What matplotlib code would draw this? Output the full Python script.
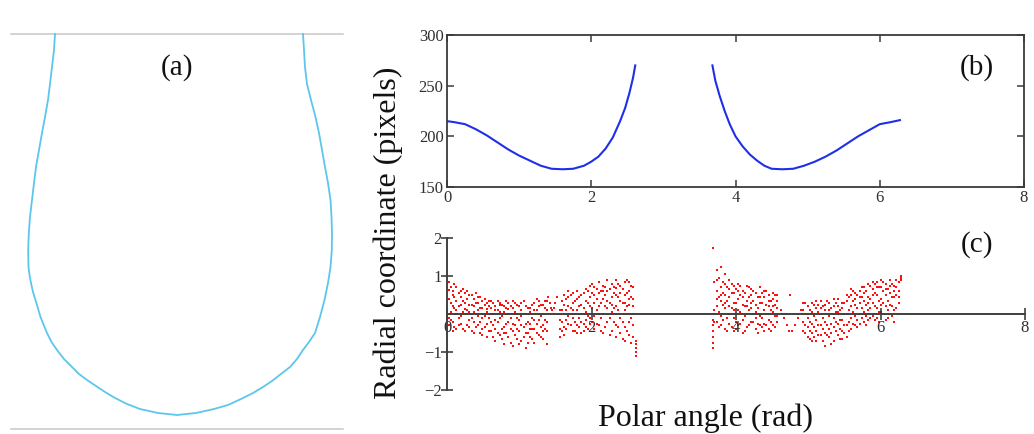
import matplotlib
matplotlib.use("Agg")
import matplotlib.pyplot as plt

plt.rcParams['font.family'] = ['Liberation Serif', 'DejaVu Serif']

W, H = 1034, 434

# ---------------- data ----------------
# (a) drop contour traced in image pixel coordinates (x, y down)
drop_x = [55, 54, 52, 50, 48, 45, 42, 39, 36, 34, 32, 30, 28.8, 28.2, 28.5, 29.5, 31, 33, 35.5, 40.5, 47, 51.5, 57, 64, 72, 79, 87, 96, 105,
          115, 127, 140, 158, 177, 196, 214, 228, 241, 253, 263, 272, 281, 290, 297, 303, 309, 315, 320, 324.5, 328, 330.5, 331.8,
          332, 331.5, 330.5, 328, 325, 322, 319, 315.5, 311, 307, 305, 304, 303]
drop_y = [34, 50, 67, 84, 100, 117, 133, 150, 167, 183, 200, 217, 233, 250, 267, 275, 283, 292, 300, 317, 333, 342, 350, 359, 367,
          374, 380, 386, 392, 398, 404, 409, 413, 415, 413, 409, 405, 399, 393, 387, 381, 374, 367, 359, 350, 342, 333, 317,
          300, 283, 267, 250, 233, 217, 200, 183, 167, 150, 133, 117, 100, 84, 67, 50, 34]

# (b) radial coordinate vs polar angle, two branches
b_left_x = [0.0, 0.1, 0.25, 0.4, 0.55, 0.7, 0.85, 1.0, 1.15, 1.3, 1.45, 1.6, 1.75, 1.9, 2.0, 2.1, 2.2, 2.3, 2.4, 2.47, 2.53, 2.58, 2.61]
b_left_y = [215, 214, 212, 207, 201, 194, 187, 181, 176, 171, 168, 167.5, 168, 171, 175, 180, 188, 199, 215, 228, 243, 258, 270]
b_right_x = [3.68, 3.72, 3.78, 3.85, 3.92, 4.0, 4.1, 4.2, 4.3, 4.4, 4.5, 4.65, 4.8, 4.95, 5.1, 5.25, 5.4, 5.55, 5.7, 5.85, 6.0, 6.15, 6.28]
b_right_y = [270, 255, 240, 225, 212, 200, 190, 182, 176, 171, 168, 167.5, 168, 171, 175, 180, 186, 193, 200, 206, 212, 214, 216]

# (c) residuals: columns of points (angle, list of residuals)
c_cols_x = [0.0, 0.03, 0.08, 0.13, 0.19, 0.25, 0.31, 0.37, 0.43, 0.49, 0.55, 0.61, 0.67, 0.73, 0.79, 0.85, 0.91, 0.97,
            1.03, 1.09, 1.15, 1.21, 1.27, 1.33, 1.38, 1.40, 1.42, 1.44, 1.46, 1.48, 1.50, 1.52, 1.56, 1.62, 1.68, 1.74,
            1.80, 1.86, 1.92, 1.98, 2.04, 2.10, 2.16, 2.22, 2.28, 2.34, 2.40, 2.46, 2.52, 2.58, 2.61,
            3.68, 3.70, 3.74, 3.79, 3.85, 3.91, 3.97, 4.03, 4.09, 4.15, 4.21, 4.27, 4.33, 4.39, 4.45, 4.51, 4.57,
            4.62, 4.66, 4.70, 4.74, 4.75, 4.78, 4.82, 4.86, 4.90, 4.93, 4.99, 5.05, 5.11, 5.17, 5.23, 5.29, 5.35, 5.41,
            5.47, 5.53, 5.59, 5.65, 5.71, 5.77, 5.83, 5.89, 5.95, 6.01, 6.07, 6.13, 6.19, 6.25, 6.28]
c_cols_y = [
    [0.0, -0.1, -0.2],
    [0.85, 0.4, -0.1, -0.3, 0.62],
    [0.6, 0.2, -0.2, 0.5, -0.45],
    [0.7, 0.1, -0.4, 0.35, 0.0],
    [0.45, -0.05, -0.25, 0.6, 0.25],
    [0.55, 0.3, -0.45, 0.0, 0.12],
    [0.25, -0.15, 0.5, -0.35, 0.05],
    [0.4, 0.05, -0.5, 0.2, -0.2],
    [0.3, -0.3, 0.1, 0.45, -0.05],
    [0.15, -0.55, 0.35, -0.1, -0.4],
    [0.05, 0.12, -0.6, 0.3, -0.25],
    [0.35, -0.2, -0.45, 0.0, 0.15],
    [0.2, -0.4, -0.7, 0.1, -0.15],
    [0.3, -0.1, -0.55, 0.25, 0.05],
    [0.05, -0.35, -0.8, 0.2, -0.5],
    [0.3, -0.2, -0.6, 0.0, 0.12],
    [0.15, -0.45, -0.85, 0.35, -0.25],
    [0.25, -0.1, -0.65, 0.0, -0.4],
    [0.1, -0.3, -0.7, 0.3, -0.05],
    [0.2, -0.5, -0.9, 0.0, -0.25],
    [0.05, -0.25, -0.6, 0.15, -0.4],
    [0.3, -0.4, -0.75, 0.1, -0.15],
    [0.2, -0.15, -0.55, 0.35, 0.0],
    [0.0, -0.3, -0.65, 0.25, -0.45],
    [0.35, -0.2, -0.45, -0.8, 0.1],
    [0.45], [0.3], [0.15], [0.1], [0.15], [0.3], [0.45],
    [0.1, -0.15, -0.4, -0.6],
    [0.5, 0.0, -0.35, 0.25, -0.55],
    [0.6, 0.2, -0.25, 0.45, -0.05],
    [0.3, -0.1, -0.45, 0.55, 0.1],
    [0.6, 0.1, -0.3, 0.4, -0.5],
    [0.25, -0.2, 0.5, -0.5, 0.0],
    [0.65, 0.05, -0.35, 0.35, -0.15],
    [0.45, -0.1, 0.75, -0.25, 0.2],
    [0.7, 0.3, -0.05, -0.4, 0.5],
    [0.55, 0.2, -0.3, 0.85, 0.0],
    [0.75, 0.4, 0.0, -0.5, 0.6],
    [0.6, 0.15, -0.2, 0.9, 0.35],
    [0.8, 0.45, 0.05, -0.45, 0.25],
    [0.5, 0.2, -0.3, 0.9, -0.6, 0.68],
    [0.75, 0.35, -0.1, -0.5, 0.55],
    [0.85, 0.5, 0.1, -0.35, -0.7, 0.3],
    [0.6, 0.25, -0.2, -0.55, 0.85, 0.4],
    [0.7, 0.4, 0.0, -0.3, -0.6, 0.2],
    [-0.7, -0.8, -0.9, -1.0, -1.1],
    [0.0, -0.15, -0.3, -0.45, -0.6, -0.75, -0.9, 1.75],
    [0.85, 0.1, -0.2],
    [1.15, 0.6, 0.2, -0.2, 0.4, 0.9],
    [1.25, 0.7, 0.35, -0.05, -0.3, 0.5],
    [1.05, 0.5, 0.15, -0.4, 0.8, 0.3],
    [0.9, 0.45, 0.0, -0.25, 0.65, 0.2],
    [0.75, 0.3, -0.1, -0.45, 0.55, 0.1],
    [0.8, 0.4, 0.1, -0.3, 0.6],
    [0.6, 0.25, -0.15, -0.5, 0.45],
    [0.75, 0.35, 0.0, -0.35, 0.2],
    [0.5, 0.15, -0.2, 0.65, 0.3],
    [0.55, 0.25, -0.1, -0.4, 0.05],
    [0.7, 0.3, -0.05, -0.3, 0.45],
    [0.45, 0.1, -0.25, 0.6, -0.45],
    [0.5, 0.2, -0.15, -0.4, 0.35],
    [0.4, 0.05, -0.3, 0.55, 0.2],
    [0.35, 0.15, -0.2, 0.5, -0.05],
    [0.1], [-0.1], [-0.3], [-0.45], [0.5], [-0.45], [-0.3], [-0.1], [0.1],
    [0.1, -0.2, -0.45, 0.3],
    [0.2, -0.1, -0.35, -0.6],
    [0.05, -0.25, -0.5, 0.3, -0.7],
    [0.15, -0.15, -0.45, -0.7, 0.35],
    [0.35, 0.0, -0.3, -0.55, 0.15],
    [0.1, -0.2, -0.5, -0.85, 0.25],
    [0.3, -0.05, -0.4, -0.6, 0.1],
    [0.2, -0.1, -0.35, -0.7, 0.4],
    [0.4, 0.05, -0.25, -0.55, 0.2],
    [0.15, -0.15, -0.45, 0.3, -0.65],
    [0.35, 0.0, -0.3, -0.6, 0.5],
    [0.5, 0.2, -0.1, -0.4, 0.65],
    [0.55, 0.25, -0.05, -0.3, 0.4],
    [0.6, 0.3, 0.0, -0.25, 0.45],
    [0.7, 0.35, 0.05, -0.2, 0.55],
    [0.8, 0.45, 0.1, -0.15, 0.3],
    [0.65, 0.3, -0.05, 0.85, 0.5],
    [0.85, 0.5, 0.15, -0.1, 0.7],
    [0.7, 0.4, 0.05, 0.9, 0.25],
    [0.8, 0.5, 0.2, -0.15, 0.65],
    [0.9, 0.55, 0.25, 0.0, 0.75],
    [0.75, 0.45, 0.1, -0.2, 0.6],
    [0.85, 0.6, 0.3, 0.0, 0.45],
    [0.9, 0.95, 1.0],
]

# second, interleaved layer of residual columns
c2_cols_x = [0.05, 0.10, 0.16, 0.22, 0.28, 0.34, 0.40, 0.46, 0.52, 0.58, 0.64, 0.70, 0.76, 0.82, 0.88, 0.94, 1.00,
             1.06, 1.12, 1.18, 1.24, 1.30, 1.36, 1.59, 1.65, 1.71, 1.77, 1.83, 1.89, 1.95, 2.01, 2.07, 2.13, 2.19,
             2.25, 2.31, 2.37, 2.43, 2.49, 2.55,
             3.76, 3.82, 3.88, 3.94, 4.00, 4.06, 4.12, 4.18, 4.24, 4.30, 4.36, 4.42, 4.48, 4.54,
             4.96, 5.02, 5.08, 5.14, 5.20, 5.26, 5.32, 5.38, 5.44, 5.50, 5.56, 5.62, 5.68, 5.74, 5.80, 5.86,
             5.92, 5.98, 6.04, 6.10, 6.16, 6.22]
c2_cols_y = [
    [0.7, 0.3, -0.15, 0.05], [0.45, 0.15, -0.35, 0.8], [0.55, 0.2, -0.1, -0.3], [0.65, 0.35, 0.05, -0.4],
    [0.4, 0.1, -0.3, 0.6], [0.5, 0.25, -0.1, -0.45], [0.3, 0.0, -0.35, 0.55], [0.45, 0.15, -0.2, -0.5],
    [0.25, -0.05, -0.35, 0.4], [0.2, -0.1, -0.45, 0.35], [0.3, 0.0, -0.3, -0.6], [0.1, -0.2, -0.5, 0.35],
    [0.25, -0.05, -0.4, -0.65], [0.15, -0.25, -0.5, 0.35], [0.2, -0.1, -0.4, -0.75], [0.05, -0.3, -0.55, 0.3],
    [0.2, -0.15, -0.45, -0.8], [0.35, 0.0, -0.35, -0.6], [0.15, -0.2, -0.5, -0.75], [0.25, -0.1, -0.4, -0.65],
    [0.1, -0.25, -0.5, 0.4], [0.25, -0.05, -0.35, -0.6], [0.15, -0.15, -0.4, 0.35],
    [0.35, -0.2, -0.45, 0.1], [0.4, 0.1, -0.15, -0.4], [0.5, 0.15, -0.3, 0.0], [0.35, 0.0, -0.2, -0.45],
    [0.45, 0.2, -0.1, -0.35], [0.55, 0.15, -0.25, -0.45], [0.3, 0.6, -0.05, -0.4], [0.55, 0.15, -0.2, 0.8],
    [0.65, 0.4, 0.1, -0.25], [0.6, 0.3, -0.1, -0.45], [0.7, 0.5, 0.2, -0.35], [0.65, 0.3, -0.1, -0.55],
    [0.7, 0.55, 0.15, -0.2], [0.8, 0.45, 0.1, -0.35], [0.65, 0.3, -0.2, -0.65], [0.9, 0.55, 0.2, -0.45],
    [0.75, 0.45, -0.1, -0.75],
    [0.95, 0.45, 0.05, -0.35], [0.85, 0.55, 0.25, -0.15], [0.7, 0.35, -0.1, -0.45], [0.8, 0.55, 0.15, -0.35],
    [0.65, 0.3, -0.2, -0.4], [0.75, 0.5, 0.05, -0.25], [0.55, 0.2, -0.05, -0.45], [0.7, 0.45, 0.1, -0.3],
    [0.6, 0.35, 0.0, -0.2], [0.45, 0.15, -0.25, -0.5], [0.55, 0.3, -0.1, -0.35], [0.6, 0.25, 0.0, -0.3],
    [0.35, 0.1, -0.2, -0.45], [0.5, 0.25, -0.05, -0.35],
    [0.3, 0.0, -0.3, -0.5], [0.1, -0.2, -0.45, -0.65], [0.25, -0.05, -0.35, -0.6], [0.05, -0.3, -0.55, 0.25],
    [0.2, -0.1, -0.4, -0.7], [0.35, 0.0, -0.3, -0.55], [0.15, -0.25, -0.5, -0.8], [0.3, 0.05, -0.2, -0.45],
    [0.1, -0.15, -0.4, -0.65], [0.3, 0.0, -0.3, -0.5], [0.45, 0.1, -0.2, -0.45], [0.35, 0.05, -0.25, 0.6],
    [0.5, 0.15, -0.15, -0.35], [0.45, 0.15, -0.1, 0.7], [0.6, 0.25, -0.05, -0.3], [0.75, 0.4, 0.15, -0.1],
    [0.55, 0.2, -0.15, 0.8], [0.7, 0.35, 0.05, -0.2], [0.85, 0.6, 0.3, 0.0], [0.65, 0.35, 0.1, -0.1],
    [0.8, 0.45, 0.2, -0.05], [0.7, 0.5, 0.15, 0.9],
]

c_x = [x for x, col in zip(c_cols_x + c2_cols_x, c_cols_y + c2_cols_y) for _ in col]
c_y = [v for col in c_cols_y + c2_cols_y for v in col]

b_xticks = [0, 2, 4, 6, 8]
b_yticks = [150, 200, 250, 300]
c_xticks = [0, 2, 4, 6, 8]
c_yticks = [-2, -1, 1, 2]

# ---------------- figure ----------------
fig = plt.figure(figsize=(W / 100, H / 100), dpi=100)
fig.patch.set_facecolor('white')

def fx(px):
    return px / W

def fy(py):
    return 1 - py / H

tick_col = '#303030'
spine_col = '#3a3a3a'

# (a)
axa = fig.add_axes([0, 0, 360 / W, 1])
axa.set_xlim(0, 360)
axa.set_ylim(H, 0)
axa.axis('off')
axa.plot([11, 343], [34, 34], color='#c8c8c8', lw=1.1)
axa.plot([11, 343], [429, 429], color='#c8c8c8', lw=1.1)
axa.plot(drop_x, drop_y, color='#5cc6ec', lw=1.3, solid_joinstyle='round')
axa.text(177, 68, '(a)', fontsize=21, ha='center', va='center', color='#111111')

# (b)
axb = fig.add_axes([fx(447), fy(187), 577 / W, 152 / H])
axb.plot(b_left_x, b_left_y, color='#1f2fe8', lw=1.5)
axb.plot(b_right_x, b_right_y, color='#1f2fe8', lw=1.5)
axb.set_xlim(0, 8)
axb.set_ylim(150, 300)
axb.set_xticks(b_xticks)
axb.set_yticks(b_yticks)
axb.tick_params(direction='in', top=True, right=True, length=5, width=1.1, color=spine_col,
                labelsize=12, labelcolor=tick_col, pad=2.5)
for s in axb.spines.values():
    s.set_color(spine_col)
    s.set_linewidth(1.3)
fig.text(fx(977), fy(68), '(b)', fontsize=21, ha='center', va='center', color='#111111')

# (c)
axc = fig.add_axes([fx(447), fy(390), 578 / W, 152 / H])
axc.scatter(c_x, c_y, s=2.2, marker='s', color='#ff1010', linewidths=0)
axc.set_xlim(0, 8)
axc.set_ylim(-2, 2)
axc.spines['left'].set_position(('data', 0))
axc.spines['bottom'].set_position(('data', 0))
axc.spines['top'].set_visible(False)
axc.spines['right'].set_visible(False)
for s in ['left', 'bottom']:
    axc.spines[s].set_color('#404040')
    axc.spines[s].set_linewidth(1.4)
axc.set_xticks(c_xticks)
axc.set_yticks(c_yticks)
axc.tick_params(direction='inout', length=8, width=1.1, color='#303030',
                labelsize=12, labelcolor=tick_col, pad=0)
axc.patch.set_alpha(0)
fig.text(fx(977), fy(245), '(c)', fontsize=21, ha='center', va='center', color='#111111')

# shared labels
fig.text(fx(388), fy(233), 'Radial coordinate (pixels)', fontsize=23, rotation=90,
         ha='center', va='center', color='#111111')
fig.text(fx(706), fy(418), 'Polar angle (rad)', fontsize=23, ha='center', va='center', color='#111111')

fig.savefig('out.png', dpi=100, facecolor='white')
